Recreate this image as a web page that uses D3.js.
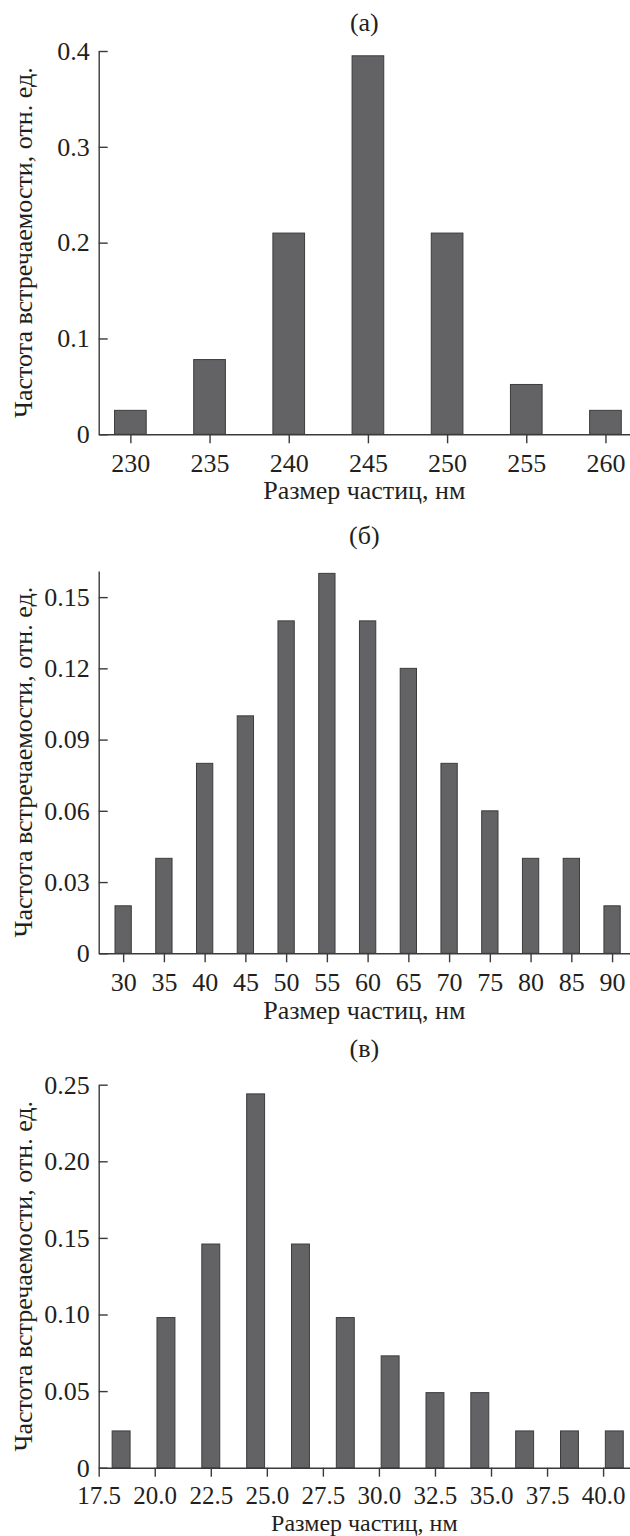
<!DOCTYPE html>
<html>
<head>
<meta charset="utf-8">
<script src="https://cdn.jsdelivr.net/npm/d3@7"></script>
<style>
  body { margin: 0; background: #fff; }
  svg text { font-family: "Liberation Serif", "Times New Roman", serif; fill: #231f20; }
</style>
</head>
<body>
<div id="chart"></div>
<script>
// data
var sizesA = [230, 235, 240, 245, 250, 255, 260];
var freqA  = [0.025, 0.078, 0.21, 0.395, 0.21, 0.052, 0.025];
var ticksXA = [230, 235, 240, 245, 250, 255, 260];
var ticksYA = [0, 0.1, 0.2, 0.3, 0.4];

var sizesB = [30, 35, 40, 45, 50, 55, 60, 65, 70, 75, 80, 85, 90];
var freqB  = [0.02, 0.04, 0.08, 0.10, 0.14, 0.16, 0.14, 0.12, 0.08, 0.06, 0.04, 0.04, 0.02];
var ticksXB = [30, 35, 40, 45, 50, 55, 60, 65, 70, 75, 80, 85, 90];
var ticksYB = [0, 0.03, 0.06, 0.09, 0.12, 0.15];

var sizesC = [18.5, 20.5, 22.5, 24.5, 26.5, 28.5, 30.5, 32.5, 34.5, 36.5, 38.5, 40.5];
var freqC  = [0.024, 0.098, 0.146, 0.244, 0.146, 0.098, 0.073, 0.049, 0.049, 0.024, 0.024, 0.024];
var ticksXC = [17.5, 20, 22.5, 25, 27.5, 30, 32.5, 35, 37.5, 40];
var ticksYC = [0, 0.05, 0.10, 0.15, 0.20, 0.25];

var xTitle = "Размер частиц, нм";
var yTitle = "Частота встречаемости, отн. ед.";

var W = 630, H = 1536;
var left = 98.7, right = 630;

var panels = [
  {label: "(а)", sizes: sizesA, freq: freqA, tx: ticksXA, ty: ticksYA,
   xDom: [228, 261.55], yDom: [0, 0.4], top: 51, bottom: 434.3, barW: 2,
   fx: d3.format("d"), fy: function(d) { return d === 0 ? "0" : d3.format(".1f")(d); },
   labelY: 30.5, xPad: 10, xSize: 26, titleY: 499.3, titleSize: 26},
  {label: "(б)", sizes: sizesB, freq: freqB, tx: ticksXB, ty: ticksYB,
   xDom: [27, 92.2], yDom: [0, 0.161], top: 571, bottom: 953.3, barW: 2,
   fx: d3.format("d"), fy: function(d) { return d === 0 ? "0" : d3.format(".2f")(d); },
   labelY: 543.5, xPad: 10, xSize: 26, titleY: 1018.8, titleSize: 26},
  {label: "(в)", sizes: sizesC, freq: freqC, tx: ticksXC, ty: ticksYC,
   xDom: [17.5, 41.2], yDom: [0, 0.25], top: 1084.7, bottom: 1467.7, barW: 0.8,
   fx: d3.format(".1f"), fy: function(d) { return d === 0 ? "0" : d3.format(".2f")(d); },
   labelY: 1057, xPad: 9.5, xSize: 25, titleY: 1530.8, titleSize: 24}
];

var svg = d3.select("#chart").append("svg")
    .attr("width", W)
    .attr("height", H);

panels.forEach(function(p) {
  var x = d3.scaleLinear().domain(p.xDom).range([left, right]);
  var y = d3.scaleLinear().domain(p.yDom).range([p.bottom, p.top]);

  var g = svg.append("g");

  // bars
  g.selectAll("rect.bar")
    .data(p.sizes)
    .enter().append("rect")
    .attr("class", "bar")
    .attr("x", function(d) { return x(d - p.barW / 2); })
    .attr("width", function(d) { return x(d + p.barW / 2) - x(d - p.barW / 2); })
    .attr("y", function(d, i) { return y(p.freq[i]); })
    .attr("height", function(d, i) { return y(0) - y(p.freq[i]); })
    .style("fill", "#636365")
    .style("stroke", "#3c3c3e")
    .style("stroke-width", 1);

  // x axis
  var gx = g.append("g")
    .attr("transform", "translate(0," + p.bottom + ")")
    .call(d3.axisBottom(x).tickValues(p.tx).tickFormat(p.fx)
      .tickSize(9).tickSizeOuter(0).tickPadding(p.xPad));

  // y axis, ticks pointing inward
  var gy = g.append("g")
    .attr("transform", "translate(" + left + ",0)")
    .call(d3.axisLeft(y).tickValues(p.ty).tickFormat(p.fy)
      .tickSize(-9).tickSizeOuter(0).tickPadding(9));

  [gx, gy].forEach(function(a) {
    a.select(".domain").style("stroke", "#3a3a3a").style("stroke-width", 1.4);
    a.selectAll(".tick line").style("stroke", "#3a3a3a").style("stroke-width", 1.4);
    a.selectAll(".tick text").style("font-size", "26px")
      .style("font-family", "'Liberation Serif', 'Times New Roman', serif")
      .style("fill", "#231f20");
  });
  gx.selectAll(".tick text").style("font-size", p.xSize + "px");

  // panel label
  g.append("text")
    .attr("x", (left + right) / 2)
    .attr("y", p.labelY)
    .style("text-anchor", "middle")
    .style("font-size", "26px")
    .text(p.label);

  // x title
  g.append("text")
    .attr("x", (left + right) / 2)
    .attr("y", p.titleY)
    .style("text-anchor", "middle")
    .style("font-size", p.titleSize + "px")
    .text(xTitle);

  // y title
  g.append("text")
    .attr("transform", "translate(32," + (p.top + p.bottom) / 2 + ") rotate(-90)")
    .style("text-anchor", "middle")
    .style("font-size", "26px")
    .text(yTitle);
});
</script>
</body>
</html>
